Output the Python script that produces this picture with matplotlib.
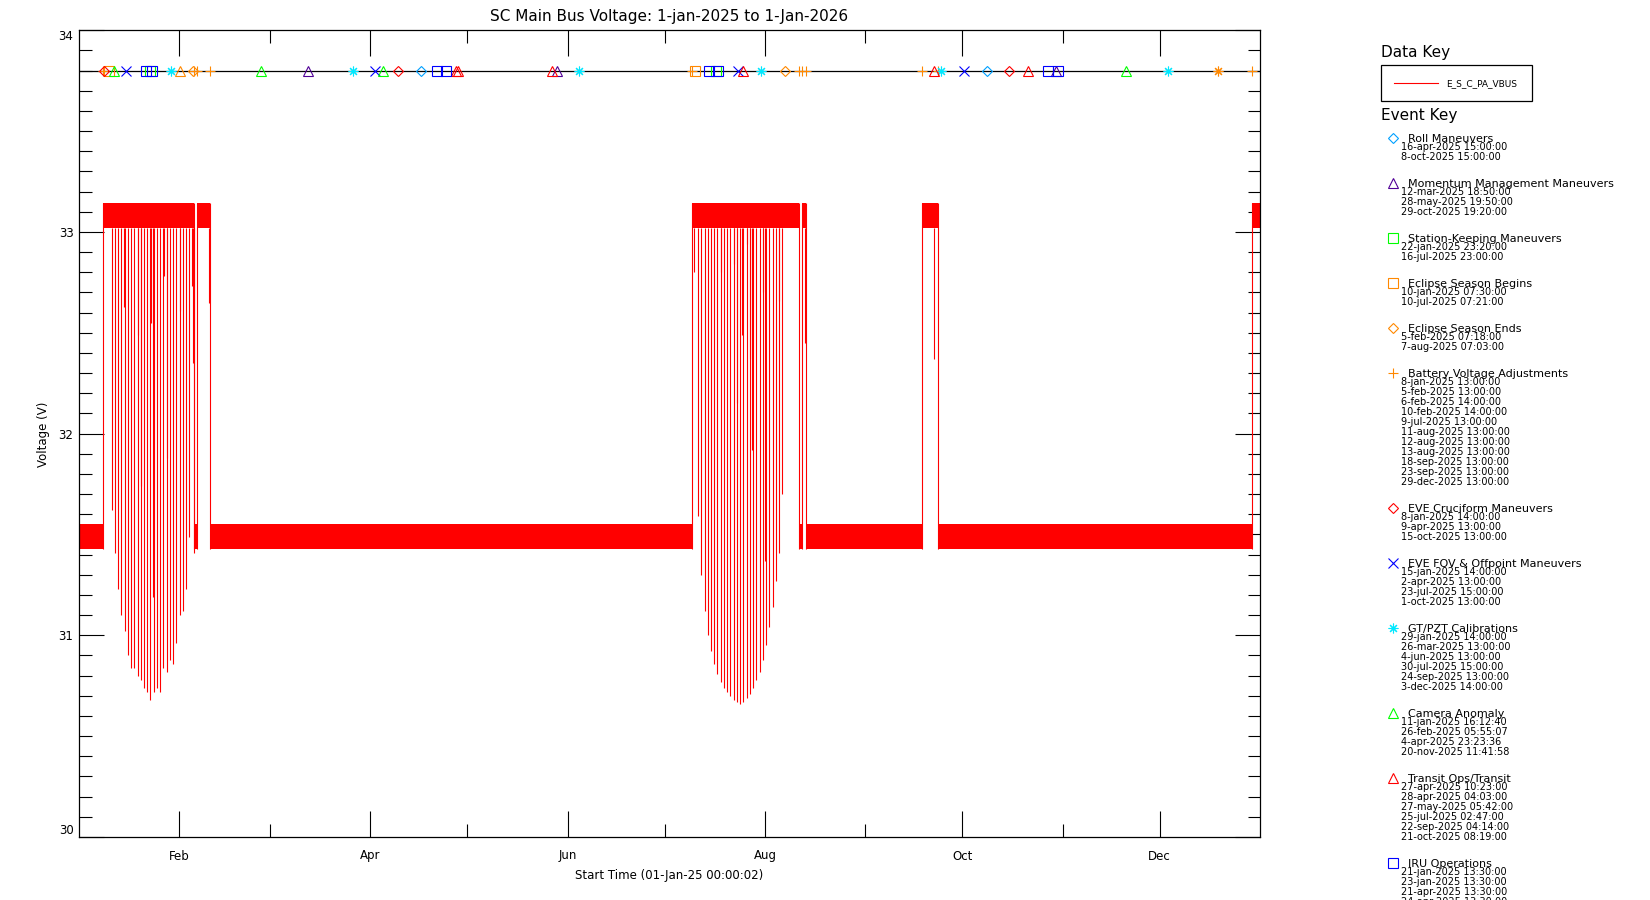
import numpy as np
import pandas as pd
import matplotlib
matplotlib.use('Agg')
import matplotlib.pyplot as plt
import matplotlib.dates as mdates
from matplotlib.ticker import AutoMinorLocator
from matplotlib.patches import Rectangle

FMT = '%d-%b-%Y %H:%M:%S'
RED = '#FF0000'
ORANGE = '#FF8800'

# bus level flips between the low and high band at each battery adjustment
low_band = [31.43, 31.55]
high_band = [33.02, 33.145]

# daily eclipse dips (minimum voltage reached each day)
eclipse1_start = '11-jan-2025 02:00:00'
eclipse1_min = [31.62, 31.41, 31.23, 31.10, 31.02, 30.90, 30.84, 30.84, 30.80,
                30.78, 30.74, 30.72, 30.68, 30.72, 30.74, 30.72, 30.84, 30.82,
                30.88, 30.86, 30.96, 31.10, 31.12, 31.23, 31.49]
eclipse2_start = '11-jul-2025 08:00:00'
eclipse2_min = [31.59, 31.30, 31.12, 31.00, 30.92, 30.86, 30.81, 30.77, 30.74,
                30.72, 30.70, 30.68, 30.67, 30.66, 30.67, 30.69, 30.71, 30.74,
                30.78, 30.82, 30.88, 30.95, 31.04, 31.14, 31.27, 31.41, 31.70]

# shorter dips seen inside the high band
partial_dates = ['15-jan-2025 00:00:00', '19-jan-2025 05:00:00', '20-jan-2025 02:00:00',
                 '23-jan-2025 05:00:00', '24-jan-2025 00:00:00', '27-jan-2025 07:00:00',
                 '28-jan-2025 05:00:00', '1-feb-2025 05:00:00', '5-feb-2025 00:00:00',
                 '5-feb-2025 07:00:00', '5-feb-2025 11:00:00', '10-feb-2025 07:00:00',
                 '10-jul-2025 02:00:00', '18-jul-2025 12:00:00', '22-jul-2025 12:00:00',
                 '23-jul-2025 10:00:00', '25-jul-2025 00:00:00', '26-jul-2025 12:00:00',
                 '27-jul-2025 10:00:00', '28-jul-2025 02:00:00', '31-jul-2025 12:00:00',
                 '1-aug-2025 02:00:00', '5-aug-2025 10:00:00', '13-aug-2025 11:00:00',
                 '22-sep-2025 05:00:00']
partial_min = [32.63, 32.49, 31.74, 32.55, 31.19, 32.78, 31.88, 32.61, 32.73,
               32.35, 31.41, 32.65, 32.80, 32.80, 32.84, 32.15, 32.49, 32.94,
               32.37, 31.92, 32.70, 31.37, 32.66, 32.45, 32.37]

# events
roll_dates = ['16-apr-2025 15:00:00', '8-oct-2025 15:00:00']
momentum_dates = ['12-mar-2025 18:50:00', '28-may-2025 19:50:00', '29-oct-2025 19:20:00']
station_dates = ['22-jan-2025 23:20:00', '16-jul-2025 23:00:00']
ecl_begin_dates = ['10-jan-2025 07:30:00', '10-jul-2025 07:21:00']
ecl_end_dates = ['5-feb-2025 07:18:00', '7-aug-2025 07:03:00']
battery_dates = ['8-jan-2025 13:00:00', '5-feb-2025 13:00:00', '6-feb-2025 14:00:00',
                 '10-feb-2025 14:00:00', '9-jul-2025 13:00:00', '11-aug-2025 13:00:00',
                 '12-aug-2025 13:00:00', '13-aug-2025 13:00:00', '18-sep-2025 13:00:00',
                 '23-sep-2025 13:00:00', '29-dec-2025 13:00:00']
cruciform_dates = ['8-jan-2025 14:00:00', '9-apr-2025 13:00:00', '15-oct-2025 13:00:00']
fov_dates = ['15-jan-2025 14:00:00', '2-apr-2025 13:00:00', '23-jul-2025 15:00:00',
             '1-oct-2025 13:00:00']
gtpzt_dates = ['29-jan-2025 14:00:00', '26-mar-2025 13:00:00', '4-jun-2025 13:00:00',
               '30-jul-2025 15:00:00', '24-sep-2025 13:00:00', '3-dec-2025 14:00:00']
camera_dates = ['11-jan-2025 16:12:40', '26-feb-2025 05:55:07', '4-apr-2025 23:23:36',
                '20-nov-2025 11:41:58']
transit_dates = ['27-apr-2025 10:23:00', '28-apr-2025 04:03:00', '27-may-2025 05:42:00',
                 '25-jul-2025 02:47:00', '22-sep-2025 04:14:00', '21-oct-2025 08:19:00']
iru_dates = ['21-jan-2025 13:30:00', '23-jan-2025 13:30:00', '21-apr-2025 13:30:00',
             '24-apr-2025 13:30:00', '14-jul-2025 13:30:00', '17-jul-2025 13:30:00',
             '27-oct-2025 13:30:00', '30-oct-2025 13:30:00']
# symbols whose key entries fall below the bottom of the page
other_tri_dates = ['1-feb-2025 04:00:00']
other_ast_dates = ['18-dec-2025 21:00:00']

ASTER = (8, 2, 0)
events = [
    ('Roll Maneuvers', 'D', '#00A0FF', 5.0, roll_dates),
    ('Momentum Management Maneuvers', '^', '#500096', 6.5, momentum_dates),
    ('Station-Keeping Maneuvers', 's', '#00FF00', 6.5, station_dates),
    ('Eclipse Season Begins', 's', ORANGE, 6.5, ecl_begin_dates),
    ('Eclipse Season Ends', 'D', ORANGE, 5.0, ecl_end_dates),
    ('Battery Voltage Adjustments', '+', ORANGE, 7.0, battery_dates),
    ('EVE Cruciform Maneuvers', 'D', RED, 5.0, cruciform_dates),
    ('EVE FOV & Offpoint Maneuvers', 'x', '#0000FF', 6.5, fov_dates),
    ('GT/PZT Calibrations', ASTER, '#00E8FF', 7.0, gtpzt_dates),
    ('Camera Anomaly', '^', '#00FF00', 6.5, camera_dates),
    ('Transit Ops/Transit', '^', RED, 6.5, transit_dates),
    ('IRU Operations', 's', '#0000FF', 6.5, iru_dates),
]
extra_events = [('^', ORANGE, 6.5, other_tri_dates), (ASTER, ORANGE, 7.0, other_ast_dates)]


def to_num(strings):
    return mdates.date2num(pd.to_datetime(strings, format=FMT).to_pydatetime())


W, H = 1650, 900
fig = plt.figure(figsize=(W / 100, H / 100), dpi=100)
plt.rcParams['font.family'] = 'DejaVu Sans'

left, right, top, bottom = 79, 1260, 30.3, 837
ax = fig.add_axes([left / W, 1 - bottom / H, (right - left) / W, (bottom - top) / H])

t0 = mdates.date2num(pd.Timestamp('2025-01-01').to_pydatetime())
t1 = mdates.date2num(pd.Timestamp('2026-01-01').to_pydatetime())

# voltage bands between battery adjustments
edges = np.concatenate([[t0], to_num(battery_dates), [t1]])
for i in range(len(edges) - 1):
    band = low_band if i % 2 == 0 else high_band
    ax.fill_between([edges[i], edges[i + 1]], band[0], band[1], color=RED, lw=0, zorder=2)
ax.vlines(to_num(battery_dates), low_band[0], high_band[1], color=RED, lw=0.8, zorder=2)

# eclipse dips
for start, mins in [(eclipse1_start, eclipse1_min), (eclipse2_start, eclipse2_min)]:
    days = pd.date_range(pd.to_datetime(start, format=FMT), periods=len(mins), freq='D')
    ax.vlines(mdates.date2num(days.to_pydatetime()), mins, high_band[0],
              color=RED, lw=0.8, zorder=2)
ax.vlines(to_num(partial_dates), partial_min, high_band[0], color=RED, lw=0.8, zorder=2)

# event line and symbols
event_level = 33.8
ax.axhline(event_level, color='black', lw=0.9, zorder=3)
for name, mk, col, ms, dates in events:
    x = to_num(dates)
    ax.plot(x, np.full(len(x), event_level), ls='none', marker=mk, ms=ms,
            mfc='none', mec=col, mew=0.8, zorder=4, clip_on=False)
for mk, col, ms, dates in extra_events:
    x = to_num(dates)
    ax.plot(x, np.full(len(x), event_level), ls='none', marker=mk, ms=ms,
            mfc='none', mec=col, mew=0.8, zorder=4)

ax.set_xlim(t0, t1)
ax.set_ylim(30, 34)
ax.xaxis.set_major_locator(mdates.MonthLocator(bymonth=[2, 4, 6, 8, 10, 12]))
ax.xaxis.set_minor_locator(mdates.MonthLocator(bymonth=[3, 5, 7, 9, 11]))
ax.xaxis.set_major_formatter(mdates.DateFormatter('%b'))
ax.set_yticks([30, 31, 32, 33, 34])
ax.yaxis.set_minor_locator(AutoMinorLocator(10))

ax.tick_params(axis='y', which='major', direction='in', length=18, width=0.8,
               left=True, right=True, labelsize=8.5, pad=4)
ax.tick_params(axis='y', which='minor', direction='in', length=9, width=0.8,
               left=True, right=True)
ax.tick_params(axis='x', which='major', direction='in', length=19, width=0.8,
               top=True, bottom=True, labelsize=8.5, pad=9)
ax.tick_params(axis='x', which='minor', direction='in', length=9.5, width=0.8,
               top=True, bottom=True)
for sp in ax.spines.values():
    sp.set_linewidth(0.9)

yt = ax.yaxis.get_major_ticks()
yt[0].label1.set_va('bottom')
yt[-1].label1.set_va('top')

fig.text(669.5 / W, 1 - 16 / H, 'SC Main Bus Voltage: 1-jan-2025 to 1-Jan-2026',
         ha='center', va='center', fontsize=11)
fig.text(669.5 / W, 1 - 875.5 / H, 'Start Time (01-Jan-25 00:00:02)',
         ha='center', va='center', fontsize=8.5)
fig.text(43 / W, 1 - 434 / H, 'Voltage (V)', rotation=90,
         ha='center', va='center', fontsize=8.5)

# keys on the right, drawn in pixel coordinates
lax = fig.add_axes([0, 0, 1, 1])
lax.set_xlim(0, W)
lax.set_ylim(H, 0)
lax.axis('off')

lax.text(1380.7, 52, 'Data Key', fontsize=11, va='center', ha='left')
lax.add_patch(Rectangle((1380.7, 65.3), 151.6, 36, fill=False, ec='black', lw=0.9))
lax.plot([1394, 1438], [83.3, 83.3], color=RED, lw=0.8)
lax.text(1446, 83.3, 'E_S_C_PA_VBUS', fontsize=6.5, va='center', ha='left')

lax.text(1380.7, 115.5, 'Event Key', fontsize=11, va='center', ha='left')
y = 139
for name, mk, col, ms, dates in events:
    lax.plot([1392.7], [y - 1], ls='none', marker=mk, ms=ms, mfc='none', mec=col,
             mew=0.8, clip_on=False)
    lax.text(1408, y, name, fontsize=8, va='center', ha='left')
    for i, d in enumerate(dates):
        lax.text(1401, y + 8.3 + 10 * i, d, fontsize=7, va='center', ha='left')
    y += 10 * len(dates) + 25

fig.savefig('out.png', dpi=100)
